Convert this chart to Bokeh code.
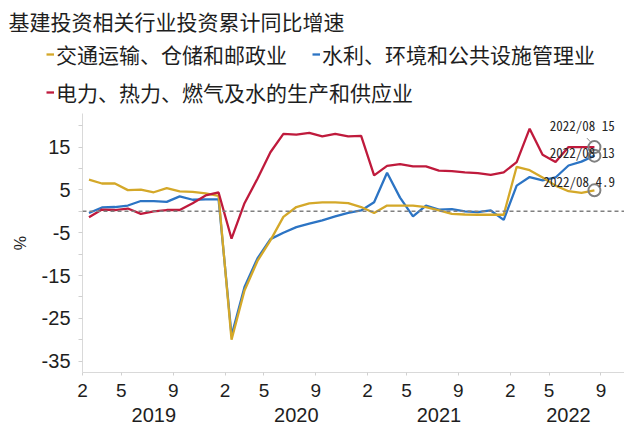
from bokeh.plotting import figure
from bokeh.models import (Range1d, FixedTicker, LinearAxis, Legend, LegendItem,
                          Span, ColumnDataSource, Label)
from bokeh.layouts import column
from bokeh.embed import file_html
from bokeh.resources import INLINE
from bokeh.core.properties import value

# ---------------- data ----------------
title_text = "基建投资相关行业投资累计同比增速"
series_names = ["交通运输、仓储和邮政业", "水利、环境和公共设施管理业", "电力、热力、燃气及水的生产和供应业"]

years = ["2019", "2020", "2021", "2022"]
year_months = [
    [2, 3, 4, 5, 6, 7, 8, 9, 10, 11, 12],
    [2, 3, 4, 5, 6, 7, 8, 9, 10, 11, 12],
    [2, 3, 4, 5, 6, 7, 8, 9, 10, 11, 12],
    [2, 3, 4, 5, 6, 7, 8, 9, 10],
]
labeled_months = [2, 5, 9]

transport = [7.4, 6.5, 6.5, 4.95, 5.05, 4.45, 5.4, 4.65, 4.55, 4.2, 3.6,
             -30.0, -18.5, -11.6, -6.8, -1.3, 1.0, 1.85, 2.1, 2.1, 1.9, 1.0,
             -0.4, 1.35, 1.35, 1.35, 1.0, 0.2, -0.6, -0.75, -0.8, -0.8, -0.8,
             10.4, 9.6, 7.9, 6.0, 4.7, 4.3, 4.9]
water_env = [-0.4, 0.9, 1.0, 1.35, 2.4, 2.4, 2.2, 3.5, 2.7, 2.8, 2.8,
             -29.0, -17.7, -11.0, -6.5, -5.0, -3.7, -2.9, -2.1, -1.2, -0.35, 0.2,
             2.1, 9.0, 3.2, -1.2, 1.35, 0.4, 0.5, 0.0, -0.2, 0.2, -2.0,
             6.0, 8.0, 7.2, 7.9, 10.7, 11.6, 13.0]
power = [-1.4, 0.4, 0.3, 0.65, -0.6, 0.0, 0.3, 0.3, 1.9, 3.7, 4.4,
         -6.4, 1.9, 7.6, 13.8, 18.1, 17.9, 18.3, 17.5, 18.1, 17.5, 17.6,
         8.4, 10.6, 11.0, 10.5, 10.5, 9.5, 9.4, 9.1, 8.9, 8.5, 9.1,
         11.5, 19.3, 13.2, 11.5, 15.0, 15.0, 15.0]

end_labels = ["2022/08 15", "2022/08 13", "2022/08 4.9"]

y_major = [-35, -25, -15, -5, 5, 15]
y_minor = [-30, -20, -10, 0, 10, 20]

# ---------------- derived positions ----------------
cat_month = [m for ms in year_months for m in ms]
x = [i + 0.5 for i in range(len(transport))]
month_ticks = [i for i, m in enumerate(cat_month) if m in labeled_months]
month_overrides = {i: str(cat_month[i]) for i in month_ticks}
year_centers = []
start = 0
for ms in year_months:
    year_centers.append(start + len(ms) / 2)
    start += len(ms)
year_overrides = {c: y for c, y in zip(year_centers, years)}

c_yellow = "#D4A829"
c_blue = "#2C74C4"
c_red = "#BF1A3C"
LW = 2.3

cjk = "Noto Sans CJK SC"
num_font = "Liberation Sans"
txt_color = "#1e1e1e"

W = 624
TOP_H = 113
BOT_H = 316

# ---------------- header: title + legends ----------------
top = figure(width=W, height=TOP_H, x_range=Range1d(0, W), y_range=Range1d(0, TOP_H),
             output_backend="svg", toolbar_location=None,
             x_axis_location=None, y_axis_location=None,
             min_border=0, min_border_left=0, min_border_right=0,
             min_border_top=0, min_border_bottom=0)
top.frame_align = False
top.xgrid.visible = False
top.ygrid.visible = False
top.outline_line_color = None

top.add_layout(Label(x=8, y=TOP_H - 20, text=title_text, text_font=cjk,
                     text_font_size="21px", text_color=txt_color,
                     text_baseline="middle", text_align="left"))

# hidden copies of the series only to supply legend swatches
d_t = top.line(x, transport, line_color=c_yellow, line_width=LW, visible=False)
d_w = top.line(x, water_env, line_color=c_blue, line_width=LW, visible=False)
d_p = top.line(x, power, line_color=c_red, line_width=LW, visible=False)

leg_common = dict(orientation="horizontal", glyph_width=8, label_standoff=2,
                  padding=0, margin=0, border_line_color=None,
                  background_fill_alpha=0, inactive_fill_alpha=0,
                  label_text_font=cjk,
                  label_text_font_size="21px", label_text_color=txt_color,
                  glyph_height=30, label_height=30)
legA = Legend(items=[LegendItem(label=series_names[0], renderers=[d_t]),
                     LegendItem(label=series_names[1], renderers=[d_w])],
              location=(46, TOP_H - 54 - 15), spacing=25, **leg_common)
legB = Legend(items=[LegendItem(label=series_names[2], renderers=[d_p])],
              location=(46, TOP_H - 92 - 15), spacing=0, **leg_common)
top.add_layout(legA)
top.add_layout(legB)

# ---------------- chart ----------------
p = figure(width=W, height=BOT_H,
           x_range=Range1d(0, 41.82), y_range=Range1d(-37.66, 22.85),
           output_backend="svg", toolbar_location=None,
           min_border_left=82, min_border_right=0,
           min_border_top=0, min_border_bottom=57)
p.frame_align = False
p.xgrid.visible = False
p.ygrid.visible = False
p.outline_line_color = None

p.add_layout(Span(location=0, dimension="width", line_color="#808080",
                  line_dash="4 3", line_width=1.5))

r_w = p.line(x, water_env, line_color=c_blue, line_width=LW)
r_t = p.line(x, transport, line_color=c_yellow, line_width=LW)
r_p = p.line(x, power, line_color=c_red, line_width=LW)

last = len(transport) - 1
end_src = ColumnDataSource(dict(
    x=[x[last]] * 3,
    y=[power[last], water_env[last], transport[last]],
    text=end_labels,
    xo=[-44.7, -44.7, -51],
    yo=[-21.6, -3.5, -8.8],
))
p.scatter("x", "y", source=end_src, size=12, fill_color=None,
          line_color="#808080", line_width=2)
p.text("x", "y", text="text", source=end_src, x_offset="xo", y_offset="yo",
       text_font=value("Noto Sans Mono CJK SC"), text_font_size="13px",
       text_color="#262626", text_baseline="middle", text_align="left")
p.segment(x0=[x[last] - 0.58], y0=[power[last] + 2.1],
          x1=[x[last] - 0.2], y1=[power[last] + 0.9],
          line_color="#8c8c8c", line_width=1)

ya = p.yaxis[0]
ya.ticker = FixedTicker(ticks=y_major, minor_ticks=y_minor)
ya.major_label_overrides = {v: str(v) for v in y_major}
ya.axis_line_color = "#d9d9d9"
ya.major_tick_line_color = "#d0d0d0"
ya.minor_tick_line_color = "#d0d0d0"
ya.major_tick_in = 0
ya.major_tick_out = 4
ya.minor_tick_in = 0
ya.minor_tick_out = 4
ya.major_label_standoff = 8
ya.major_label_text_font = num_font
ya.major_label_text_font_size = "20px"
ya.major_label_text_color = txt_color
ya.axis_label = "%"
ya.axis_label_text_font = num_font
ya.axis_label_text_font_size = "16px"
ya.axis_label_text_font_style = "normal"
ya.axis_label_text_color = txt_color
ya.axis_label_standoff = 10

xa = p.xaxis[0]
xa.ticker = FixedTicker(ticks=month_ticks, minor_ticks=[])
xa.major_label_overrides = month_overrides
xa.axis_line_color = "#d9d9d9"
xa.major_tick_line_color = "#d0d0d0"
xa.major_tick_in = 0
xa.major_tick_out = 3
xa.minor_tick_line_color = None
xa.major_label_standoff = 8
xa.major_label_text_font = num_font
xa.major_label_text_font_size = "19px"
xa.major_label_text_color = txt_color

yr = LinearAxis(ticker=FixedTicker(ticks=year_centers, minor_ticks=[]),
                major_label_overrides=year_overrides,
                axis_line_color=None, major_tick_line_color=None,
                minor_tick_line_color=None, major_label_standoff=2,
                major_label_text_font=num_font,
                major_label_text_font_size="20px",
                major_label_text_color=txt_color)
p.add_layout(yr, "below")

layout = column(top, p, spacing=0)
open("out.html", "w").write(file_html(layout, INLINE))
